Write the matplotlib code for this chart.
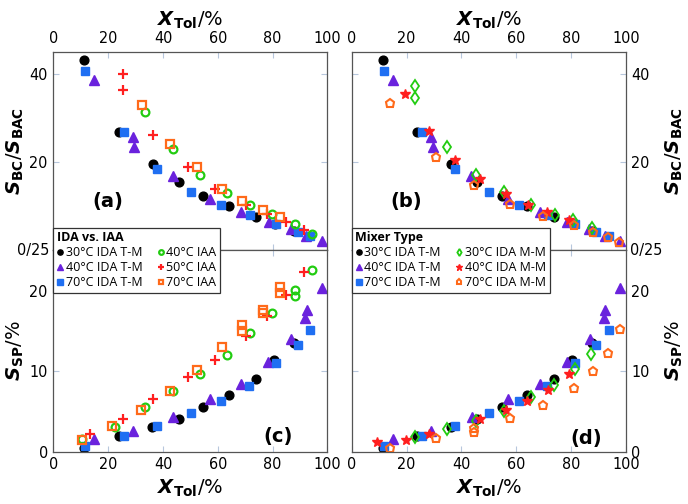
import matplotlib
matplotlib.use("Agg")
import matplotlib.pyplot as plt
from matplotlib.font_manager import FontProperties, fontManager

plt.rcParams['mathtext.fontset'] = 'dejavusans'

# ---------------- data ----------------
# Panel (a)/(b): S_BC/S_BAC vs X_Tol  (T-M series shared by (a) and (b))
tm30_x_top = [11.3, 23.9, 36.3, 45.8, 54.7, 63.9, 73.8, 81.0, 87.8]
tm30_y_top = [43.1, 26.8, 19.6, 15.4, 12.4, 10.1, 7.6, 6.1, 4.4]
tm40_x_top = [14.9, 29.1, 29.5, 43.6, 57.1, 68.6, 78.5, 86.6, 92.3, 98.0]
tm40_y_top = [38.5, 25.8, 23.4, 16.9, 11.7, 8.7, 6.4, 4.8, 3.2, 2.1]
tm70_x_top = [11.6, 25.7, 37.8, 50.2, 61.1, 71.7, 81.3, 89.2, 93.7]
tm70_y_top = [40.6, 26.8, 18.4, 13.3, 10.4, 8.0, 6.0, 4.2, 3.3]

iaa40_x_top = [33.3, 43.6, 53.5, 63.5, 71.6, 79.8, 88.0, 94.3]
iaa40_y_top = [31.3, 23.0, 17.2, 13.1, 10.4, 8.2, 5.9, 3.7]
iaa50_x_top = [25.5, 25.5, 36.3, 49.3, 58.9, 70.2, 78.0, 85.0, 91.5]
iaa50_y_top = [40.0, 36.4, 26.2, 19.0, 13.9, 10.2, 8.2, 6.5, 4.6]
iaa70_x_top = [32.4, 42.6, 52.3, 61.7, 68.9, 76.4, 82.8]
iaa70_y_top = [32.9, 24.0, 19.0, 14.0, 11.3, 9.1, 7.6]

mm30_x_top = [23.1, 23.1, 34.6, 45.5, 55.6, 65.3, 74.0, 80.7, 87.6]
mm30_y_top = [37.3, 34.6, 23.4, 17.0, 13.3, 10.2, 8.1, 6.9, 5.2]
mm40_x_top = [19.5, 28.3, 37.6, 46.7, 56.4, 64.3, 71.2, 79.1]
mm40_y_top = [35.4, 27.0, 20.5, 16.1, 12.7, 10.2, 8.6, 6.9]
mm70_x_top = [14.0, 30.6, 44.7, 57.9, 69.8, 81.0, 87.9, 93.6, 97.6]
mm70_y_top = [33.4, 21.1, 14.9, 10.6, 7.8, 5.7, 4.1, 3.0, 1.9]

# Panel (c)/(d): S_SP vs X_Tol
tm30_x_bot = [11.3, 23.9, 36.1, 45.8, 54.7, 63.9, 73.8, 80.5, 87.8]
tm30_y_bot = [0.45, 1.9, 3.1, 4.1, 5.5, 7.0, 9.0, 11.4, 13.5]
tm40_x_bot = [14.9, 29.1, 43.8, 57.1, 68.5, 78.4, 86.8, 91.9, 92.5, 98.0]
tm40_y_bot = [1.57, 2.56, 4.3, 6.5, 8.4, 11.2, 14.0, 16.6, 17.6, 20.4]
tm70_x_bot = [11.6, 25.7, 37.8, 50.2, 61.1, 71.4, 81.3, 89.2, 93.7]
tm70_y_bot = [0.7, 2.0, 3.2, 4.8, 6.3, 8.2, 11.0, 13.3, 15.1]

iaa40_x_bot = [10.4, 22.5, 33.3, 43.6, 53.5, 63.5, 71.6, 79.8, 88.0, 88.2, 94.3]
iaa40_y_bot = [1.6, 3.1, 5.5, 7.5, 9.6, 12.0, 14.7, 17.2, 20.1, 19.3, 22.6]
iaa50_x_bot = [13.2, 25.5, 36.3, 49.3, 59.0, 70.2, 77.8, 85.0, 91.3]
iaa50_y_bot = [2.2, 4.1, 6.6, 9.3, 11.4, 14.4, 16.9, 19.5, 22.3]
iaa70_x_bot = [10.4, 21.3, 32.1, 42.6, 52.3, 61.7, 68.9, 68.9, 76.4, 76.4, 82.5, 82.5]
iaa70_y_bot = [1.4, 3.2, 5.2, 7.5, 10.2, 13.0, 15.7, 15.0, 17.6, 17.2, 20.5, 19.7]

mm30_x_bot = [23.1, 34.6, 45.5, 55.6, 65.3, 73.7, 81.5, 87.3]
mm30_y_bot = [1.8, 2.8, 3.85, 5.1, 6.8, 8.3, 10.3, 12.2]
mm40_x_bot = [9.4, 19.7, 28.3, 46.7, 56.4, 64.1, 71.6, 79.1]
mm40_y_bot = [1.15, 1.5, 2.2, 4.1, 5.2, 6.3, 7.7, 9.6]
mm70_x_bot = [14.0, 30.6, 44.7, 44.7, 57.9, 69.8, 81.0, 87.9, 93.6, 98.0]
mm70_y_bot = [0.45, 1.7, 2.9, 2.5, 4.2, 5.8, 7.9, 10.0, 12.3, 15.3]

x_ticks = [0, 20, 40, 60, 80, 100]
top_yticks = [20, 40]
bot_yticks = [0, 10, 20]

# ---------------- styles ----------------
C_BLACK = '#000000'
C_PURPLE = '#6a22dd'
C_BLUE = '#1f6ff2'
C_GREEN = '#22cc11'
C_RED = '#ff1f1f'
C_ORANGE = '#ff6a1a'

st_tm30 = dict(marker='o', ms=6.3, mfc=C_BLACK, mec=C_BLACK, ls='none', label='30°C IDA T-M')
st_tm40 = dict(marker='^', ms=6.5, mfc=C_PURPLE, mec=C_PURPLE, ls='none', label='40°C IDA T-M')
st_tm70 = dict(marker='s', ms=6.3, mfc=C_BLUE, mec=C_BLUE, ls='none', label='70°C IDA T-M')
st_iaa40 = dict(marker='o', ms=5.6, mfc='none', mec=C_GREEN, mew=1.6, ls='none', label='40°C IAA')
st_iaa50 = dict(marker='+', ms=6.5, mec=C_RED, mew=1.6, ls='none', label='50°C IAA')
st_iaa70 = dict(marker='s', ms=6.0, mfc='none', mec=C_ORANGE, mew=1.6, ls='none', label='70°C IAA')
st_mm30 = dict(marker='d', ms=6.0, mfc='none', mec=C_GREEN, mew=1.3, ls='none', label='30°C IDA M-M')
st_mm40 = dict(marker='*', ms=7.5, mfc=C_RED, mec=C_RED, ls='none', label='40°C IDA M-M')
st_mm70 = dict(marker='p', ms=6.3, mfc='none', mec=C_ORANGE, mew=1.5, ls='none', label='70°C IDA M-M')

# pick a narrow regular font for tick labels if one is installed
_names = {f.name for f in fontManager.ttflist}


def _is_regular(f):
    return f.style == 'normal' and f.weight in (400, 'normal', 'regular', 'book')


_cond = [f for f in fontManager.ttflist
         if f.name == 'DejaVu Sans' and _is_regular(f)
         and ('ondensed' in str(f.stretch) or 'Condensed.ttf' in f.fname)]
_narrow = [f for f in fontManager.ttflist
           if f.name == 'Liberation Sans Narrow' and _is_regular(f)]
if _narrow:
    tick_font = FontProperties(fname=_narrow[0].fname, size=12.5)
elif _cond:
    tick_font = FontProperties(fname=_cond[0].fname, size=11.5)
else:
    tick_font = FontProperties(family='DejaVu Sans', size=10.5)

legend_font = FontProperties(family=['Open Sans', 'DejaVu Sans'], size=9)
legend_title_font = FontProperties(family=['Open Sans', 'DejaVu Sans'], size=9, weight='bold')

fig = plt.figure(figsize=(6.88, 5.04), dpi=100)

L1, L2, W = 0.0775, 0.5112, 0.3985
BT, HT = 0.503, 0.3944
BB, HB = 0.1038, 0.3992

ax_a = fig.add_axes([L1, BT, W, HT])
ax_b = fig.add_axes([L2, BT, W, HT])
ax_c = fig.add_axes([L1, BB, W, HB])
ax_d = fig.add_axes([L2, BB, W, HB])

# panel a
ax_a.plot(tm30_x_top, tm30_y_top, **st_tm30)
ax_a.plot(tm40_x_top, tm40_y_top, **st_tm40)
ax_a.plot(tm70_x_top, tm70_y_top, **st_tm70)
ax_a.plot(iaa40_x_top, iaa40_y_top, **st_iaa40)
ax_a.plot(iaa50_x_top, iaa50_y_top, **st_iaa50)
ax_a.plot(iaa70_x_top, iaa70_y_top, **st_iaa70)
# panel b
ax_b.plot(tm30_x_top, tm30_y_top, **st_tm30)
ax_b.plot(tm40_x_top, tm40_y_top, **st_tm40)
ax_b.plot(tm70_x_top, tm70_y_top, **st_tm70)
ax_b.plot(mm30_x_top, mm30_y_top, **st_mm30)
ax_b.plot(mm40_x_top, mm40_y_top, **st_mm40)
ax_b.plot(mm70_x_top, mm70_y_top, **st_mm70)
# panel c
ax_c.plot(tm30_x_bot, tm30_y_bot, **st_tm30)
ax_c.plot(tm40_x_bot, tm40_y_bot, **st_tm40)
ax_c.plot(tm70_x_bot, tm70_y_bot, **st_tm70)
ax_c.plot(iaa40_x_bot, iaa40_y_bot, **st_iaa40)
ax_c.plot(iaa50_x_bot, iaa50_y_bot, **st_iaa50)
ax_c.plot(iaa70_x_bot, iaa70_y_bot, **st_iaa70)
# panel d
ax_d.plot(tm30_x_bot, tm30_y_bot, **st_tm30)
ax_d.plot(tm40_x_bot, tm40_y_bot, **st_tm40)
ax_d.plot(tm70_x_bot, tm70_y_bot, **st_tm70)
ax_d.plot(mm30_x_bot, mm30_y_bot, **st_mm30)
ax_d.plot(mm40_x_bot, mm40_y_bot, **st_mm40)
ax_d.plot(mm70_x_bot, mm70_y_bot, **st_mm70)

for ax in (ax_a, ax_b, ax_c, ax_d):
    ax.set_xlim(0, 100)
    ax.set_xticks(x_ticks)
    ax.tick_params(direction='in', length=4, width=0.8, color='#b7c7dc',
                   top=True, bottom=True, left=True, right=True,
                   labeltop=False, labelbottom=False, labelleft=False, labelright=False)
    for s in ax.spines.values():
        s.set_color('#555555')
        s.set_linewidth(0.9)

for ax in (ax_a, ax_b):
    ax.set_ylim(0, 45)
    ax.set_yticks(top_yticks)
for ax in (ax_c, ax_d):
    ax.set_ylim(0, 25)
    ax.set_yticks(bot_yticks)

xlab = r'$\mathbfit{X}_{\mathbf{Tol}}/\%$'
lab_top = r'$\mathbfit{S}_{\mathbf{BC}}/\mathbfit{S}_{\mathbf{BAC}}$'
lab_bot = r'$\mathbfit{S}_{\mathbf{SP}}/\%$'

for ax in (ax_a, ax_b):
    ax.tick_params(labeltop=True, pad=4)
    ax.xaxis.set_label_position('top')
    ax.set_xlabel(xlab, fontsize=14, labelpad=4)
for ax in (ax_c, ax_d):
    ax.tick_params(labelbottom=True, pad=4)
    ax.set_xlabel(xlab, fontsize=14, labelpad=4)
for ax in (ax_a, ax_c):
    ax.tick_params(labelleft=True, pad=4)
for ax in (ax_b, ax_d):
    ax.tick_params(labelright=True, pad=4)
    ax.yaxis.set_label_position('right')

ax_a.set_ylabel(lab_top, fontsize=14)
ax_c.set_ylabel(lab_bot, fontsize=14)
ax_b.set_ylabel(lab_top, fontsize=14)
ax_d.set_ylabel(lab_bot, fontsize=14)
for ax in (ax_a, ax_c):
    ax.yaxis.set_label_coords(-0.14, 0.5)
    ax.yaxis.label.set_verticalalignment('center')
for ax in (ax_b, ax_d):
    ax.yaxis.set_label_coords(1.175, 0.5)
    ax.yaxis.label.set_verticalalignment('center')

for ax in (ax_a, ax_b, ax_c, ax_d):
    for lbl in ax.get_xticklabels() + ax.get_yticklabels():
        lbl.set_fontproperties(tick_font)

# shared boundary label
ax_c.text(-0.015, 1.0, '0/25', transform=ax_c.transAxes, ha='right', va='center',
          fontproperties=tick_font)
ax_d.text(1.015, 1.0, '0/25', transform=ax_d.transAxes, ha='left', va='center',
          fontproperties=tick_font)

# panel letters
ax_a.text(0.2, 0.245, '(a)', transform=ax_a.transAxes, ha='center', va='center',
          fontsize=14, fontweight='bold')
ax_b.text(0.2, 0.245, '(b)', transform=ax_b.transAxes, ha='center', va='center',
          fontsize=14, fontweight='bold')
ax_c.text(0.82, 0.075, '(c)', transform=ax_c.transAxes, ha='center', va='center',
          fontsize=14, fontweight='bold')
ax_d.text(0.857, 0.068, '(d)', transform=ax_d.transAxes, ha='center', va='center',
          fontsize=14, fontweight='bold')

# legends
def make_legend(ax, x0, title):
    h, l = ax.get_legend_handles_labels()
    leg = fig.legend(h, l, loc='upper left', bbox_to_anchor=(x0, 1 - 227.7 / 504),
                     ncol=2, title=title, prop=legend_font, title_fontproperties=legend_title_font,
                     frameon=True, fancybox=False, edgecolor='#333333', framealpha=1,
                     markerscale=0.6, handlelength=0.5, handletextpad=0.2,
                     columnspacing=1.2, labelspacing=0.15, borderpad=0.3,
                     borderaxespad=0, alignment='left')
    leg.get_frame().set_linewidth(0.9)
    leg.set_zorder(10)
    return leg

make_legend(ax_a, L1, 'IDA vs. IAA')
make_legend(ax_b, L2, 'Mixer Type')

fig.savefig('out.png', dpi=100)
